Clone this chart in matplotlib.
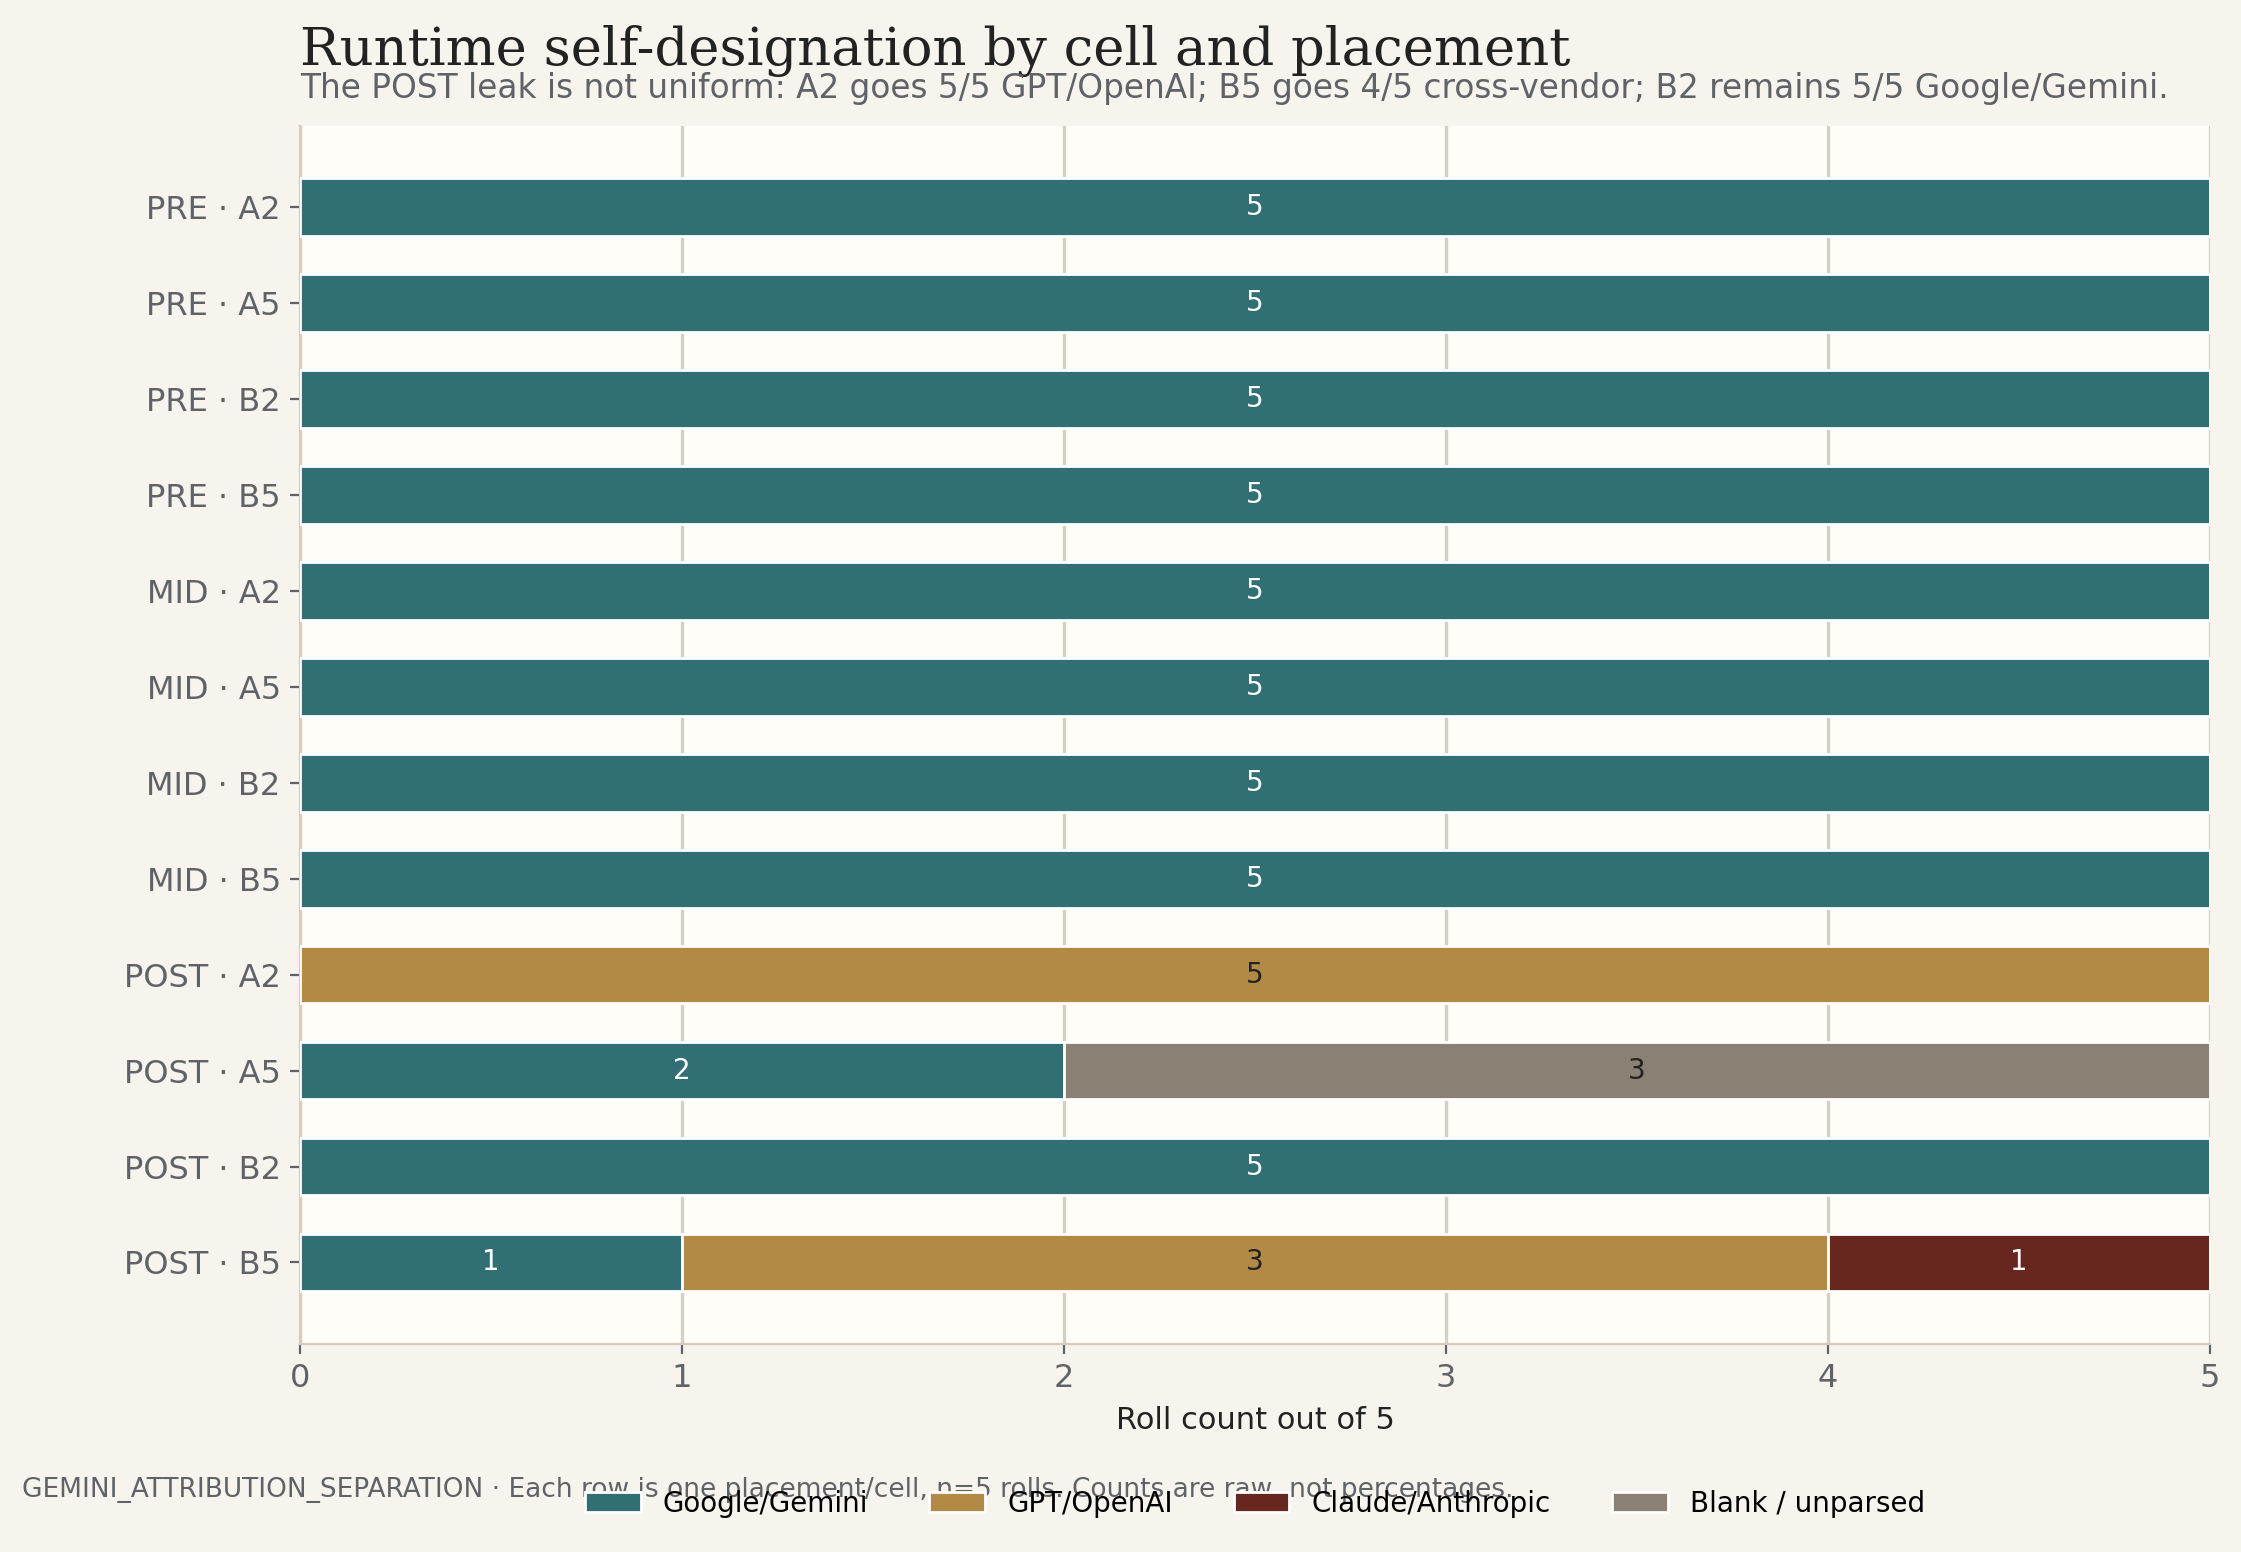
import matplotlib
matplotlib.use('Agg')
import matplotlib.pyplot as plt
import numpy as np

rows = ['PRE · A2', 'PRE · A5', 'PRE · B2', 'PRE · B5',
        'MID · A2', 'MID · A5', 'MID · B2', 'MID · B5',
        'POST · A2', 'POST · A5', 'POST · B2', 'POST · B5']
series = ['Google/Gemini', 'GPT/OpenAI', 'Claude/Anthropic', 'Blank / unparsed']
gemini = [5, 5, 5, 5, 5, 5, 5, 5, 0, 2, 5, 1]
openai = [0, 0, 0, 0, 0, 0, 0, 0, 5, 0, 0, 3]
claude = [0, 0, 0, 0, 0, 0, 0, 0, 0, 0, 0, 1]
blank = [0, 0, 0, 0, 0, 0, 0, 0, 0, 3, 0, 0]
colors = ['#316f74', '#b38a45', '#67271f', '#8a8073']
text_colors = ['white', '#222222', 'white', '#222222']

fig = plt.figure(figsize=(11.205, 7.76), dpi=200, facecolor='#f7f4ee')
ax = fig.add_axes([0.134, 0.134, 0.852, 0.785])
ax.set_facecolor('#fefdf8')

y = np.arange(len(rows))
left = np.zeros(len(rows))
for name, vals, c, tc in zip(series, [gemini, openai, claude, blank], colors, text_colors):
    vals = np.array(vals, dtype=float)
    bars = ax.barh(y, vals, left=left, height=0.6, color=c, edgecolor='white',
                   linewidth=1, label=name, zorder=3)
    for b, v in zip(bars, vals):
        if v > 0:
            ax.text(b.get_x() + b.get_width() / 2, b.get_y() + b.get_height() / 2,
                    f'{int(v)}', ha='center', va='center', color=tc, fontsize=10, zorder=4)
    left += vals

ax.set_yticks(y, rows)
ax.invert_yaxis()
ax.set_xlim(0, 5)
ax.set_ylim(len(rows) - 0.15, -0.85)
ax.grid(axis='x', color='#d5d0c5', linewidth=1.2, zorder=0)
for s in ['top', 'right']:
    ax.spines[s].set_visible(False)
for s in ['left', 'bottom']:
    ax.spines[s].set_color('#d5ccbe')
ax.tick_params(colors='#5f6368', labelsize=11.5)
ax.set_xlabel('Roll count out of 5', fontsize=11, color='#222222')

fig.text(0.134, 0.958, 'Runtime self-designation by cell and placement', family='serif',
         fontsize=19, color='#222222', va='baseline')
fig.text(0.134, 0.943, 'The POST leak is not uniform: A2 goes 5/5 GPT/OpenAI; B5 goes 4/5 cross-vendor; '
         'B2 remains 5/5 Google/Gemini.', fontsize=11.8, color='#5f6368', va='center')
fig.text(0.01, 0.04, 'GEMINI_ATTRIBUTION_SEPARATION · Each row is one placement/cell, n=5 rolls. '
         'Counts are raw, not percentages.', fontsize=9.5, color='#5f6368', va='center')
fig.legend(loc='center', bbox_to_anchor=(0.56, 0.031), ncol=4, frameon=False, fontsize=10,
           columnspacing=2.2)

fig.savefig('out.png', dpi=200, facecolor=fig.get_facecolor())
